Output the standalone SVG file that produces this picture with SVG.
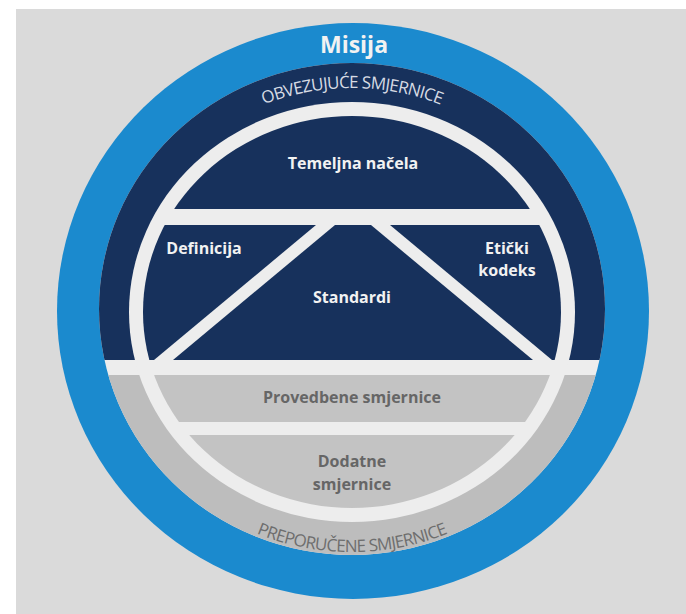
<svg xmlns="http://www.w3.org/2000/svg" width="686" height="614" viewBox="0 0 686 614">
  <style>
    .navy { fill: #17315c; }
    .band { fill: #bdbdbd; }
    .soft { fill: #c3c3c3; }
    .gap { fill: #ededed; }
    .lbl { font-family: "Open Sans", "Liberation Sans", sans-serif; font-weight: 700; font-size: 16px; text-anchor: middle; }
    .lbl-w { fill: #f2f2f2; }
    .lbl-g { fill: #666666; }
    .arc { font-family: "Open Sans", "Liberation Sans", sans-serif; font-size: 17px; letter-spacing: -0.7px; }
  </style>
  <defs>
    <!-- interior of the big disc (inside the blue ring) -->
    <clipPath id="disc"><ellipse cx="352" cy="309" rx="253" ry="246"/></clipPath>
    <!-- interior of the white inner ring -->
    <clipPath id="core"><ellipse cx="352" cy="312" rx="209" ry="196"/></clipPath>
    <path id="arcTop" d="M118,311 A234,223 0 0 1 586,311"/>
    <path id="arcBottom" d="M103,311 A249,241 0 0 0 601,311"/>
  </defs>

  <!-- backdrop -->
  <rect x="16" y="9" width="670" height="605" fill="#dadada"/>

  <!-- Misija: outer blue ring -->
  <g id="misija">
    <ellipse cx="353" cy="311" rx="296" ry="288" fill="#1b8ace"/>
    <ellipse cx="352" cy="309" rx="253" ry="246" class="gap"/>
    <text x="354" y="53" class="lbl lbl-w" style="font-size:23px">Misija</text>
  </g>

  <!-- binding guidance: upper outer band -->
  <g id="obvezujuce" clip-path="url(#disc)">
    <rect x="90" y="50" width="530" height="310" class="navy"/>
  </g>

  <!-- recommended guidance: lower outer band -->
  <g id="preporucene" clip-path="url(#disc)">
    <rect x="90" y="375" width="530" height="200" class="band"/>
  </g>

  <!-- white inner ring -->
  <ellipse cx="352" cy="312" rx="223" ry="210" class="gap"/>

  <g id="obvezujuce-label">
    <text class="arc" fill="#d6dbe4"><textPath href="#arcTop" startOffset="50%" text-anchor="middle">OBVEZUJUĆE SMJERNICE</textPath></text>
  </g>
  <g id="preporucene-label">
    <text class="arc" fill="#6e6e6e"><textPath href="#arcBottom" startOffset="50%" text-anchor="middle">PREPORUČENE SMJERNICE</textPath></text>
  </g>

  <!-- inner segments -->
  <g id="temeljna-nacela">
    <rect x="100" y="100" width="510" height="109" class="navy" clip-path="url(#core)"/>
    <text x="353" y="169" class="lbl lbl-w">Temeljna načela</text>
  </g>

  <g id="definicija">
    <polygon points="100,225 316,225 154,360 100,360" class="navy" clip-path="url(#core)"/>
    <text x="204" y="254" class="lbl lbl-w">Definicija</text>
  </g>

  <g id="standardi">
    <polygon points="335,225 371,225 533,360 173,360" class="navy" clip-path="url(#core)"/>
    <text x="352" y="303" class="lbl lbl-w">Standardi</text>
  </g>

  <g id="eticki-kodeks">
    <polygon points="390,225 610,225 610,360 552,360" class="navy" clip-path="url(#core)"/>
    <text x="507" y="254" class="lbl lbl-w">Etički</text>
    <text x="507" y="276" class="lbl lbl-w">kodeks</text>
  </g>

  <g id="provedbene-smjernice">
    <rect x="100" y="375" width="510" height="47" class="soft" clip-path="url(#core)"/>
    <text x="352" y="403" class="lbl lbl-g">Provedbene smjernice</text>
  </g>

  <g id="dodatne-smjernice">
    <rect x="100" y="435" width="510" height="100" class="soft" clip-path="url(#core)"/>
    <text x="352" y="467" class="lbl lbl-g">Dodatne</text>
    <text x="352" y="490" class="lbl lbl-g">smjernice</text>
  </g>

  <!-- no connectors in this figure -->
  <g id="connectors"/>
</svg>
